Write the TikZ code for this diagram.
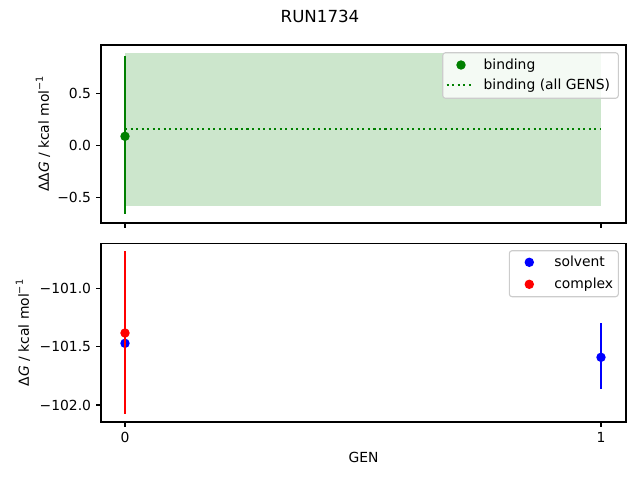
\documentclass[tikz,border=0pt]{standalone}
\usepackage{fontspec}
\setmainfont{DejaVu Sans}
\newcommand{\supm}{\raisebox{0.42em}{\fontsize{7}{8}\selectfont −1}}
\definecolor{mgreen}{HTML}{008000}
\definecolor{mfill}{HTML}{CCE6CC}
\definecolor{mblue}{HTML}{0000FF}
\definecolor{mred}{HTML}{FF0000}
\definecolor{legedge}{HTML}{CCCCCC}
\tikzset{
  spine/.style={line width=0.8pt, black},
  tick/.style={line width=0.8pt, black},
  lbl/.style={font=\fontsize{10}{12}\selectfont, inner sep=0pt},
  ebar/.style={line width=1.5pt},
  legbox/.style={draw=legedge, line width=0.8pt, fill=white, fill opacity=0.8, rounded corners=2pt},
}
\begin{document}
\begin{tikzpicture}[x=0.72pt,y=-0.72pt]
\useasboundingbox (0,0) rectangle (640,480);
% title
\node[font=\fontsize{12}{14}\selectfont, inner sep=0pt] (title) at (320,16) {RUN1734};
% ---------------- top axes ----------------
\fill[mfill] (125,53.3) rectangle (601,205.7);
\draw[mgreen, line width=1.5pt, dash pattern=on 1.5pt off 2.475pt] (125,129) -- (601,129);
\draw[mgreen, ebar] (125,55.7) -- (125,214.3);
\fill[mgreen] (125,136.3) circle (3.4pt);
\draw[spine] (101,45) rectangle (626,223);
% ticks
\foreach \yy/\tt in {93.3/0.5,145.3/0.0,197.3/−0.5}{
  \draw[tick] (101,\yy) -- ++(-4.86,0);
  \node[lbl, anchor=east] at (91.3,\yy) {\tt};
}
\draw[tick] (125,223) -- ++(0,4.86);
\draw[tick] (601,223) -- ++(0,4.86);
\node[lbl, rotate=90] (ylab1) at (43,134) {ΔΔ\textit{G} / kcal mol\supm};
% legend top
\draw[legbox] (442.7,52.7) rectangle (618.3,98.3);
\fill[mgreen] (461,65) circle (3.4pt);
\node[lbl, anchor=base west] (lg1) at (483.3,69) {binding};
\draw[mgreen, line width=1.5pt, dash pattern=on 1.5pt off 2.475pt] (446.7,85) -- (474,85);
\node[lbl, anchor=base west] (lg2) at (483.3,89) {binding (all GENS)};
% ---------------- bottom axes ----------------
\fill[mblue] (125,343.3) circle (3.4pt);
\draw[mred, ebar] (125,251) -- (125,413.7);
\fill[mred] (125,333) circle (3.4pt);
\draw[mblue, ebar] (601,323.3) -- (601,389.3);
\fill[mblue] (601,357.3) circle (3.4pt);
\draw[spine] (101,243.3) rectangle (626,422);
\foreach \yy/\tt in {288.3/−101.0,346.7/−101.5,405/−102.0}{
  \draw[tick] (101,\yy) -- ++(-4.86,0);
  \node[lbl, anchor=east] at (91.3,\yy) {\tt};
}
\draw[tick] (125,422) -- ++(0,4.86);
\draw[tick] (601,422) -- ++(0,4.86);
\node[lbl, anchor=north] (x0) at (125,431.7) {0};
\node[lbl, anchor=north] (x1) at (601,431.7) {1};
\node[lbl] (xlab) at (363.5,457) {GEN};
\node[lbl, rotate=90] (ylab2) at (23,333) {Δ\textit{G} / kcal mol\supm};
% legend bottom
\draw[legbox] (509.3,250.7) rectangle (618.3,296.7);
\fill[mblue] (529.3,262.3) circle (3.4pt);
\node[lbl, anchor=base west] (lg3) at (554,266.3) {solvent};
\fill[mred] (529.3,284.3) circle (3.4pt);
\node[lbl, anchor=base west] (lg4) at (554,288.3) {complex};
\end{tikzpicture}
\end{document}
